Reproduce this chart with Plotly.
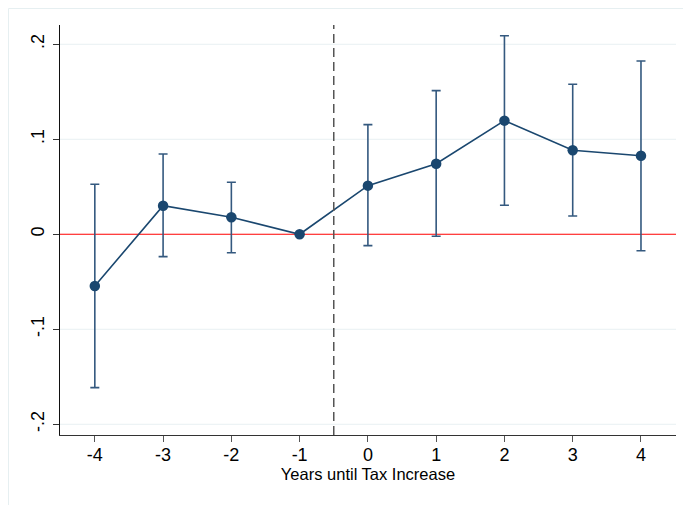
import plotly.graph_objects as go

years = [-4, -3, -2, -1, 0, 1, 2, 3, 4]
coef = [-0.0544, 0.0301, 0.0179, 0.0, 0.0512, 0.0743, 0.1196, 0.0884, 0.0827]
ci_low = [-0.1614, -0.0235, -0.0194, 0.0, -0.0120, -0.0021, 0.0305, 0.0193, -0.0173]
ci_high = [0.0526, 0.0845, 0.0547, 0.0, 0.1154, 0.1512, 0.2090, 0.1580, 0.1824]
ytick_vals = [-0.2, -0.1, 0, 0.1, 0.2]
ytick_text = ["-.2", "-.1", "0", ".1", ".2"]
xtick_vals = years
xtick_text = ["-4", "-3", "-2", "-1", "0", "1", "2", "3", "4"]
event_line = -0.5
x_title = "Years until Tax Increase"

navy = "#1a476f"
font_family = "Arial, Liberation Sans, sans-serif"

err_plus = [h - c for h, c in zip(ci_high, coef)]
err_minus = [c - l for c, l in zip(coef, ci_low)]

fig = go.Figure()

# CI caps (no markers)
fig.add_trace(go.Scatter(
    x=years, y=coef, mode="markers",
    marker=dict(size=1, color="rgba(0,0,0,0)"),
    error_y=dict(type="data", symmetric=False, array=err_plus, arrayminus=err_minus,
                 color="#34597f", thickness=1.6, width=4.5),
    showlegend=False, hoverinfo="skip",
))
# connected coefficients
fig.add_trace(go.Scatter(
    x=years, y=coef, mode="lines+markers",
    line=dict(color=navy, width=1.6),
    marker=dict(size=10.5, color=navy),
    showlegend=False,
))

# gridlines drawn as shapes (below traces), then the red zero line on top of them
for v in ytick_vals:
    if v != 0:
        fig.add_shape(type="line", xref="paper", yref="y", x0=0, x1=1, y0=v, y1=v,
                      line=dict(color="#e8f0f2", width=1), layer="below")
fig.add_shape(type="line", xref="paper", yref="y", x0=0, x1=1, y0=0, y1=0,
              line=dict(color="#ff0000", width=1.2), layer="below")
fig.add_shape(type="line", xref="x", yref="paper", x0=event_line, x1=event_line, y0=0, y1=1,
              line=dict(color="#555555", width=1.5, dash="9px,5px"), layer="above")

# page offset of 8px (body margin); plot area at page x 60..676, y 25..435
L, T, PW, PH = 52, 17, 616, 410
bx = (0.5 - L) / PW
fig.add_shape(type="line", xref="paper", yref="paper",
              x0=bx, x1=bx, y0=-(505 - T - PH) / PH, y1=(PH + T - 0.5) / PH,
              line=dict(color="#e6eff1", width=1))
fig.add_shape(type="line", xref="paper", yref="paper",
              x0=bx, x1=(691 - L) / PW, y0=(PH + T - 0.5) / PH, y1=(PH + T - 0.5) / PH,
              line=dict(color="#e6eff1", width=1))

fig.update_layout(
    width=691, height=505,
    margin=dict(l=L, r=691 - L - PW, t=T, b=505 - T - PH, autoexpand=False),
    paper_bgcolor="white", plot_bgcolor="white",
    font=dict(family=font_family, color="black"),
    xaxis=dict(
        range=[-4.51, 4.513], tickvals=xtick_vals, ticktext=xtick_text,
        ticks="outside", ticklen=6, tickcolor="#555555", tickwidth=1,
        showline=True, linecolor="#333333", linewidth=1.2,
        showgrid=False, zeroline=False, automargin=False,
        tickfont=dict(size=18, family=font_family),
        ticklabelstandoff=-3,
        title=dict(text=x_title, font=dict(size=16.5, family=font_family), standoff=2),
    ),
    yaxis=dict(
        range=[-0.2113, 0.2203], tickvals=ytick_vals, ticktext=ytick_text,
        tickangle=-90,
        ticks="outside", ticklen=6, tickcolor="#333333", tickwidth=1,
        showline=True, linecolor="#111111", linewidth=1.2,
        showgrid=False, zeroline=False, automargin=False,
        tickfont=dict(size=18, family=font_family),
        ticklabelstandoff=2,
    ),
)

fig.write_html("out.html")
